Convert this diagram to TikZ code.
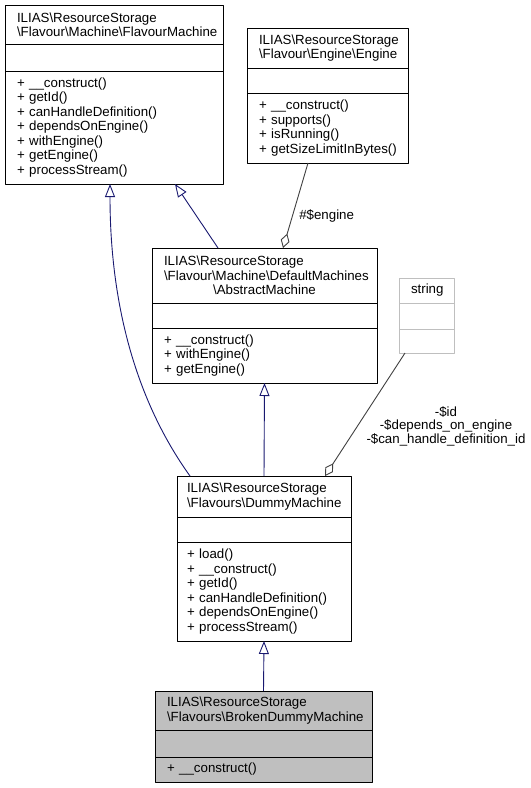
\documentclass[tikz,border=0pt]{standalone}
\usepackage{fontspec}
\setmainfont{Liberation Sans}
\usetikzlibrary{positioning,arrows.meta}
\newcommand{\bsl}{\textbackslash}
\definecolor{edgeblue}{HTML}{191970}
\definecolor{aggrgray}{HTML}{404040}
\definecolor{lightbox}{HTML}{BFBFBF}
\hyphenpenalty=10000
\exhyphenpenalty=10000
\begin{document}
\begin{tikzpicture}[x=1bp, y=-1bp, line join=round,
	font=\fontsize{13.3bp}{14.5bp}\selectfont,
	cls/.style={draw=black, fill=white, line width=0.9bp, outer sep=0pt, inner xsep=12bp, inner ysep=0pt, align=left, text width=#1},
	inherit/.style={draw=edgeblue, line width=0.9bp, -{Triangle[open, length=13bp, width=10bp]}},
	member/.style={draw=aggrgray, line width=0.9bp, -{Diamond[open, length=15bp, width=9bp]}}]
	\useasboundingbox (0,0) rectangle (531,788);
	\node[cls=194bp, anchor=north west, minimum height=39bp] (fm) at (5,5) {ILIAS\bsl ResourceStorage\\\bsl Flavour\bsl Machine\bsl FlavourMachine};
	\node[cls=194bp, below=0pt of fm, minimum height=27bp] (fm-a) {};
	\node[cls=194bp, below=0pt of fm-a, minimum height=113bp] (fm-m) {+ \_\_construct()\\+ getId()\\+ canHandleDefinition()\\+ dependsOnEngine()\\+ withEngine()\\+ getEngine()\\+ processStream()};
	\node[cls=137bp, anchor=north west, minimum height=40bp] (en) at (247,28) {ILIAS\bsl ResourceStorage\\\bsl Flavour\bsl Engine\bsl Engine};
	\node[cls=137bp, below=0pt of en, minimum height=25bp] (en-a) {};
	\node[cls=137bp, below=0pt of en-a, minimum height=70bp] (en-m) {+ \_\_construct()\\+ supports()\\+ isRunning()\\+~getSizeLimitInBytes()};
	\node[cls=201bp, anchor=north west, minimum height=55bp] (am) at (152,248) {ILIAS\bsl ResourceStorage\\\bsl Flavour\bsl Machine\bsl DefaultMachines\\\hfill\bsl AbstractMachine\hfill\null};
	\node[cls=201bp, below=0pt of am, minimum height=25bp] (am-a) {};
	\node[cls=201bp, below=0pt of am-a, minimum height=55bp] (am-m) {+ \_\_construct()\\+ withEngine()\\+ getEngine()};
	\node[cls=31bp, draw=lightbox, align=center, anchor=north west, minimum height=25bp] (str) at (399,278) {string};
	\node[cls=31bp, draw=lightbox, below=0pt of str, minimum height=26bp] (str-a) {};
	\node[cls=31bp, draw=lightbox, below=0pt of str-a, minimum height=24bp] (str-m) {};
	\node[cls=154bp, inner xsep=10bp, anchor=north west, minimum height=41bp] (dm) at (177,476) {ILIAS\bsl ResourceStorage\\\bsl Flavours\bsl DummyMachine};
	\node[cls=154bp, inner xsep=10bp, below=0pt of dm, minimum height=25bp] (dm-a) {};
	\node[cls=154bp, inner xsep=10bp, below=0pt of dm-a, minimum height=99bp] (dm-m) {+ load()\\+ \_\_construct()\\+ getId()\\+ canHandleDefinition()\\+ dependsOnEngine()\\+ processStream()};
	\node[cls=193bp, fill=lightbox, anchor=north west, minimum height=39bp] (bd) at (155,691) {ILIAS\bsl ResourceStorage\\\bsl Flavours\bsl BrokenDummyMachine};
	\node[cls=193bp, fill=lightbox, below=0pt of bd, minimum height=27bp] (bd-a) {};
	\node[cls=193bp, fill=lightbox, below=0pt of bd-a, minimum height=25bp] (bd-m) {+ \_\_construct()};
	\draw[inherit] ([xshift=13bp]dm.north west) .. controls (134,398) and (110,300) .. ([xshift=105bp]fm-m.south west);
	\draw[inherit] ([xshift=66bp]am.north west) -- ([xshift=170bp]fm-m.south west);
	\draw[member] ([xshift=61bp]en-m.south west) -- node[pos=0.62, right, xshift=3bp]{\#\$engine} ([xshift=131bp]am.north west);
	\draw[member] ([xshift=6bp]str-m.south west) -- ([xshift=148bp]dm.north west);
	\node[align=center, font=\fontsize{13.3bp}{13.5bp}\selectfont] (str-lbl) at (446,426) {-\$id\\-\$depends\_on\_engine\\-\$can\_handle\_definition\_id};
	\draw[inherit] (dm.north) -- (am-m.south);
	\draw[inherit] (bd.north) -- (dm-m.south);
\end{tikzpicture}
\end{document}
